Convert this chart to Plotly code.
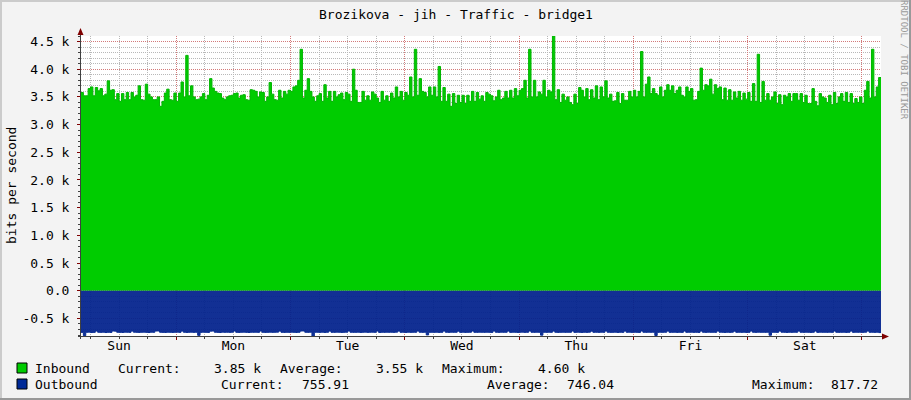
import plotly.graph_objects as go

# ---------------- data ----------------
TITLE = "Brozikova - jih - Traffic - bridge1"
Y_LABEL = "bits per second"
WATERMARK = "RRDTOOL / TOBI OETIKER"

DAYS = ["Sun", "Mon", "Tue", "Wed", "Thu", "Fri", "Sat"]
DAY_NOON_HOURS = [12, 36, 60, 84, 108, 132, 156]
MIDNIGHT_HOURS = [24, 48, 72, 96, 120, 144, 168]

Y_TICK_VALUES = [-500, 0, 500, 1000, 1500, 2000, 2500, 3000, 3500, 4000, 4500]
Y_TICK_LABELS = ["-0.5 k", "0.0", "0.5 k", "1.0 k", "1.5 k", "2.0 k", "2.5 k",
                 "3.0 k", "3.5 k", "4.0 k", "4.5 k"]

START_HOUR = 4.0      # first sample, hours after Sunday 00:00
STEP_HOURS = 0.5      # 30 minute samples
END_HOUR = 172.0

INBOUND_K = [
    3.58, 3.52, 3.52, 3.65, 3.68, 3.52, 3.67, 3.61, 3.65, 3.52,
    3.55, 3.79, 3.62, 3.63, 3.45, 3.56, 3.42, 3.56, 3.45, 3.58,
    3.45, 3.58, 3.50, 3.53, 3.70, 3.45, 3.44, 3.73, 3.55, 3.50,
    3.45, 3.45, 3.50, 3.33, 3.42, 3.57, 3.64, 3.45, 3.44, 3.57,
    3.42, 3.57, 3.77, 3.50, 4.25, 3.52, 3.70, 3.50, 3.45, 3.46,
    3.50, 3.56, 3.45, 3.53, 3.83, 3.66, 3.60, 3.57, 3.56, 3.48,
    3.45, 3.50, 3.52, 3.53, 3.56, 3.57, 3.48, 3.53, 3.54, 3.45,
    3.44, 3.63, 3.62, 3.60, 3.50, 3.59, 3.58, 3.42, 3.50, 3.76,
    3.55, 3.45, 3.44, 3.62, 3.48, 3.60, 3.55,
    3.62, 3.60, 3.68, 3.70, 3.80, 4.36, 3.48, 3.62, 3.83, 3.60,
    3.50, 3.42, 3.52, 3.56, 3.42, 3.72, 3.48, 3.60, 3.42, 3.60,
    3.50, 3.54, 3.57, 3.45, 3.58, 3.55, 3.42, 4.00, 3.62, 3.40,
    3.40, 3.60, 3.44, 3.52, 3.44, 3.59, 3.55, 3.48, 3.40, 3.60,
    3.44, 3.52, 3.42, 3.57, 3.48, 3.68, 3.50, 3.60, 3.44, 3.58,
    3.53, 3.86, 3.50, 4.36, 3.53, 3.83, 3.60, 3.58, 3.50, 3.68,
    3.53, 3.68, 3.50, 4.05, 3.42, 3.67, 3.42, 3.55, 3.33, 3.56,
    3.38, 3.53, 3.40, 3.53, 3.38, 3.53, 3.42, 3.60, 3.42, 3.58,
    3.46, 3.52, 3.42, 3.58,
    3.55, 3.52, 3.43, 3.50, 3.62, 3.45, 3.48, 3.60, 3.48, 3.62,
    3.48, 3.65, 3.52, 3.62, 3.65, 3.80, 3.48, 4.36, 3.50, 3.80,
    3.50, 3.59, 3.55, 3.80, 3.50, 3.62, 3.59, 4.60, 3.45, 3.63,
    3.40, 3.55, 3.44, 3.50, 3.40, 3.36, 3.55, 3.38, 3.67, 3.62,
    3.50, 3.65, 3.45, 3.63, 3.48, 3.70, 3.45, 3.68, 3.50, 3.79,
    3.48, 3.55, 3.42, 3.43, 3.58, 3.38, 3.56, 3.44, 3.44, 3.60,
    3.50, 3.62, 3.50, 3.60, 4.32, 3.50, 3.73, 3.86, 3.56, 3.65,
    3.56, 3.53, 3.68, 3.50, 3.62, 3.72, 3.62, 3.70, 3.56, 3.62,
    3.68, 3.53, 3.50, 3.68,
    3.60, 3.65, 3.44, 3.45, 3.60, 4.02, 3.62, 3.72, 3.70, 3.82,
    3.55, 3.72, 3.65, 3.68, 3.45, 3.66, 3.44, 3.63, 3.44, 3.59,
    3.48, 3.60, 3.44, 3.57, 3.46, 3.58, 3.42, 3.74, 3.42, 4.27,
    3.40, 3.78, 3.44, 3.56, 3.44, 3.50, 3.59, 3.38, 3.54, 3.36,
    3.53, 3.50, 3.56, 3.42, 3.56, 3.56, 3.44, 3.56, 3.40, 3.53,
    3.38, 3.38, 3.65, 3.42, 3.34, 3.56, 3.50, 3.48, 3.40, 3.53,
    3.36, 3.58, 3.38, 3.50, 3.56, 3.42, 3.58, 3.40, 3.56, 3.38,
    3.47, 3.40, 3.50, 3.38, 3.62, 3.78, 3.48, 4.36, 3.50, 3.68,
    3.85,
]

OUTBOUND = [
    752, 812, 750, 748, 755, 752, 728, 750, 752, 749, 755, 751, 753, 727, 730, 750, 752, 754, 748, 750, 752, 729, 749, 751,
    753, 750, 748, 752, 755, 749, 751, 728, 727, 750, 752, 754, 749, 751, 753, 750, 748, 752, 729, 750, 753, 751, 749, 752,
    750, 806, 752, 749, 751, 753, 730, 728, 750, 752, 755, 748, 751, 750, 752, 749, 727, 751, 753, 750, 748, 752, 754, 750,
    751, 749, 752, 728, 750, 753, 751, 749, 752, 750, 748, 729, 751, 753, 750, 752, 749, 751, 754, 750, 728, 727, 750, 752,
    749, 817.72, 751, 750, 752, 749, 753, 750, 729, 751, 752, 748, 750, 753, 751, 749, 727, 750, 752, 751, 749, 753, 750, 748,
    752, 750, 749, 751, 728, 753, 750, 752, 749, 751, 750, 752, 748, 729, 751, 750, 753, 749, 752, 750, 751, 728, 750, 752,
    749, 798, 751, 750, 752, 749, 753, 751, 728, 750, 752, 749, 751, 750, 730, 752, 749, 753, 751, 750, 728, 751, 752, 749,
    750, 752, 749, 751, 753, 728, 750, 752, 749, 751, 750, 729, 752, 749, 751, 753, 750, 748, 752, 751, 727, 750, 752, 749,
    751, 802, 750, 752, 749, 751, 729, 750, 753, 751, 749, 752, 750, 751, 728, 752, 749, 751, 753, 750, 752, 749, 730, 751,
    750, 752, 749, 751, 728, 750, 752, 751, 749, 753, 750, 752, 729, 751, 749, 752, 750, 751, 753, 728, 750, 752, 749, 751,
    750, 808, 752, 749, 751, 750, 729, 752, 751, 749, 753, 750, 752, 728, 751, 750, 749, 752, 751, 753, 729, 750, 752, 749,
    751, 750, 752, 728, 749, 751, 753, 750, 752, 749, 730, 751, 750, 752, 749, 753, 751, 728, 750, 752, 749, 751, 750, 752,
    749, 804, 751, 750, 752, 728, 749, 751, 753, 750, 752, 749, 751, 729, 750, 752, 749, 751, 753, 750, 728, 752, 749, 751,
    750, 752, 749, 751, 728, 750, 752, 751, 749, 753, 750, 729, 752, 749, 751, 750, 752, 749, 728, 751, 750, 752, 749, 755.91,
]

LEGEND_NAMES = ["Inbound", "Outbound"]
LEGEND_COLORS = ["#00CC00", "#002A97"]
INBOUND_STATS = ["Current:", "3.85 k", "Average:", "3.55 k", "Maximum:", "4.60 k"]
OUTBOUND_STATS = ["Current:", "755.91", "Average:", "746.04", "Maximum:", "817.72"]

# ---------------- geometry helpers (pixel -> paper) ----------------
W, H = 911, 400
L, R, T, B = 81, 30, 36, 64
PW, PH = W - L - R, H - T - B


def xp(px):
    return (px - L) / PW


def yp(py):
    return (H - B - py) / PH


MONO = "DejaVu Sans Mono"

times = [START_HOUR + STEP_HOURS * i for i in range(len(INBOUND_K) + 1)]
inbound = [v * 1000 for v in INBOUND_K]
inbound_y = inbound + [inbound[-1]]
outbound_y = [-v for v in OUTBOUND] + [-OUTBOUND[-1]]

fig = go.Figure()
fig.add_trace(go.Scatter(
    x=times, y=inbound_y, mode="lines",
    line=dict(shape="hv", color="#00B400", width=1),
    fill="tozeroy", fillcolor="#00CC00", hoverinfo="skip", showlegend=False,
))
fig.add_trace(go.Scatter(
    x=times, y=outbound_y, mode="lines", xaxis="x2",
    line=dict(shape="hv", color="#062C94", width=1),
    fill="tozeroy", fillcolor="rgba(0,32,140,0.93)", hoverinfo="skip", showlegend=False,
))

MAJOR_GRID = "rgba(228,80,80,0.6)"
MINOR_GRID = "#B8B8B8"
DOTS = "1px,1px"

fig.update_layout(
    width=W, height=H,
    margin=dict(l=L, r=R, t=T, b=B),
    paper_bgcolor="#F3F3F3", plot_bgcolor="#FFFFFF",
    font=dict(family=MONO, size=13, color="#000000"),
    xaxis=dict(
        range=[START_HOUR, END_HOUR], tickvals=MIDNIGHT_HOURS, ticktext=[""] * len(MIDNIGHT_HOURS),
        showgrid=True, gridcolor=MAJOR_GRID, griddash=DOTS, gridwidth=1,
        ticks="outside", ticklen=3, tickcolor="#7F0000",
        minor=dict(dtick=6, tick0=0, showgrid=True, gridcolor=MINOR_GRID, griddash=DOTS,
                   ticks="outside", ticklen=2, tickcolor="#404040"),
        showline=False, zeroline=False, fixedrange=True,
    ),
    xaxis2=dict(
        range=[START_HOUR, END_HOUR], overlaying="x", anchor="y", side="bottom",
        tickvals=DAY_NOON_HOURS, ticktext=DAYS, showgrid=False, ticks="",
        showline=False, zeroline=False, fixedrange=True,
        tickfont=dict(family=MONO, size=13, color="#000000"),
    ),
    yaxis=dict(
        range=[-817.72, 4600], tickvals=Y_TICK_VALUES, ticktext=Y_TICK_LABELS,
        showgrid=True, gridcolor=MAJOR_GRID, griddash=DOTS, gridwidth=1,
        ticks="outside", ticklen=3, tickcolor="#7F0000",
        minor=dict(dtick=100, tick0=0, showgrid=True, gridcolor=MINOR_GRID, griddash=DOTS,
                   ticks="outside", ticklen=2, tickcolor="#404040"),
        showline=False, zeroline=False, fixedrange=True,
        tickfont=dict(family=MONO, size=13, color="#000000"),
        ticklabelstandoff=5,
    ),
)

shapes = []
# 3D frame
shapes.append(dict(type="rect", xref="paper", yref="paper", x0=xp(0), x1=xp(W), y0=yp(0), y1=yp(2),
                   fillcolor="#CBCBCB", line=dict(width=0), layer="below"))
shapes.append(dict(type="rect", xref="paper", yref="paper", x0=xp(0), x1=xp(2), y0=yp(0), y1=yp(H),
                   fillcolor="#CBCBCB", line=dict(width=0), layer="below"))
shapes.append(dict(type="rect", xref="paper", yref="paper", x0=xp(0), x1=xp(W), y0=yp(H - 2), y1=yp(H),
                   fillcolor="#999999", line=dict(width=0), layer="below"))
shapes.append(dict(type="rect", xref="paper", yref="paper", x0=xp(W - 2), x1=xp(W), y0=yp(0), y1=yp(H),
                   fillcolor="#999999", line=dict(width=0), layer="below"))
# axis lines with arrows
shapes.append(dict(type="line", xref="paper", yref="paper", x0=xp(80.5), x1=xp(80.5), y0=yp(339), y1=yp(33),
                   line=dict(color="#404040", width=1)))
shapes.append(dict(type="path", xref="paper", yref="paper",
                   path=f"M {xp(80.5)} {yp(28)} L {xp(77.5)} {yp(35)} L {xp(83.5)} {yp(35)} Z",
                   fillcolor="#7F0000", line=dict(width=0)))
shapes.append(dict(type="line", xref="paper", yref="paper", x0=xp(78), x1=xp(884), y0=yp(336.5), y1=yp(336.5),
                   line=dict(color="#404040", width=1)))
shapes.append(dict(type="path", xref="paper", yref="paper",
                   path=f"M {xp(889)} {yp(336.5)} L {xp(882)} {yp(333.5)} L {xp(882)} {yp(339.5)} Z",
                   fillcolor="#7F0000", line=dict(width=0)))
# legend swatches
for k, (ytop, col) in enumerate(zip([363, 379], LEGEND_COLORS)):
    shapes.append(dict(type="rect", xref="paper", yref="paper", x0=xp(17), x1=xp(27), y0=yp(ytop + 10), y1=yp(ytop),
                       fillcolor=col, line=dict(color="#000000", width=1)))
fig.update_layout(shapes=shapes)

ann = []


def text(x, y, s, anchor="left", size=13, color="#000000", angle=0):
    ann.append(dict(x=xp(x), y=yp(y), xref="paper", yref="paper", text=s, showarrow=False,
                    xanchor=anchor, yanchor="middle", textangle=angle,
                    font=dict(family=MONO, size=size, color=color)))


text(455.5, 15, TITLE, anchor="center")
text(11, 186, Y_LABEL, anchor="center", angle=-90)
text(904, 60, WATERMARK, anchor="center", size=9, color="#9A9A9A", angle=90)

row1_x = [116, 212, 278, 374, 440, 536]
row2_x = [219, 300, 485, 565, 750, 829]
text(33, 368, LEGEND_NAMES[0])
for x, s in zip(row1_x, INBOUND_STATS):
    text(x, 368, s)
text(33, 384, LEGEND_NAMES[1])
for x, s in zip(row2_x, OUTBOUND_STATS):
    text(x, 384, s)

fig.update_layout(annotations=ann)
fig.write_html(
    "out.html",
    config={"displayModeBar": False},
    post_script="document.body.style.margin='0';document.body.style.overflow='hidden';",
)
